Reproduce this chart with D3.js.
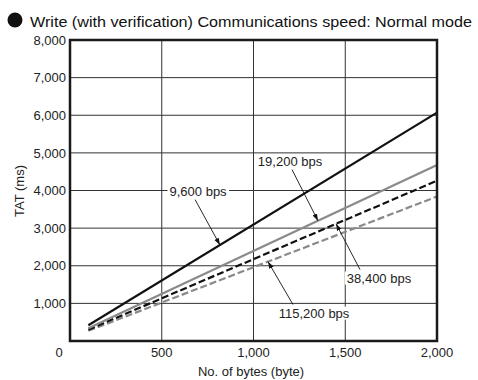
<!DOCTYPE html>
<html><head><meta charset="utf-8">
<script src="https://cdn.jsdelivr.net/npm/d3@7"></script>
<style>body{margin:0;background:#fff}svg{display:block;font-family:"Liberation Sans",Arial,sans-serif}</style>
</head><body>
<script>
const title = "Write (with verification) Communications speed: Normal mode";
const bytes = [100, 2000];
const tat9600 = [420, 6070];
const tat19200 = [340, 4680];
const tat38400 = [300, 4260];
const tat115200 = [270, 3840];
const seriesNames = ["9,600 bps", "19,200 bps", "38,400 bps", "115,200 bps"];
const xTicks = [0, 500, 1000, 1500, 2000];
const yTicks = [1000, 2000, 3000, 4000, 5000, 6000, 7000, 8000];
// label anchor (bytes, ms) and arrow-tip x (bytes)
const labelX = [698, 1199, 1684, 1330];
const labelY = [3989, 4787, 1676, 745];
const tipX = [817, 1351, 1450, 1079];

const W = 478, H = 380;
const svg = d3.select("body").append("svg").attr("width", W).attr("height", H);
const x = d3.scaleLinear().domain([0, 2000]).range([70, 437]);
const y = d3.scaleLinear().domain([0, 8000]).range([341, 40]);

// title
svg.append("circle").attr("cx", 15).attr("cy", 20).attr("r", 7.5).attr("fill", "#111");
svg.append("text").attr("x", 30).attr("y", 27).attr("font-size", 15.5)
  .attr("textLength", 442).attr("lengthAdjust", "spacingAndGlyphs").attr("fill", "#111").text(title);

// grid
const g = svg.append("g");
g.selectAll(".gx").data(xTicks.slice(1, -1)).enter().append("line")
  .attr("x1", d => x(d)).attr("x2", d => x(d)).attr("y1", y(0)).attr("y2", y(8000))
  .attr("stroke", "#333").attr("stroke-width", 1);
g.selectAll(".gy").data(yTicks.slice(0, -1)).enter().append("line")
  .attr("x1", x(0)).attr("x2", x(2000)).attr("y1", d => y(d)).attr("y2", d => y(d))
  .attr("stroke", "#333").attr("stroke-width", 1);

// series
const series = [
  {v: tat9600, color: "#111", dash: null},
  {v: tat19200, color: "#8a8a8a", dash: null},
  {v: tat38400, color: "#111", dash: "7,3"},
  {v: tat115200, color: "#8a8a8a", dash: "7,3"}
];
const line = d3.line().x(d => x(d[0])).y(d => y(d[1]));
series.slice().reverse().forEach(s => {
  svg.append("path").datum(bytes.map((b, i) => [b, s.v[i]]))
    .attr("d", line).attr("fill", "none").attr("stroke", s.color)
    .attr("stroke-width", 2.2).attr("stroke-dasharray", s.dash);
});

// frame
svg.append("rect").attr("x", x(0)).attr("y", y(8000)).attr("width", x(2000) - x(0)).attr("height", y(0) - y(8000))
  .attr("fill", "none").attr("stroke", "#1a1a1a").attr("stroke-width", 2.5);

// ticks
svg.selectAll(".yt").data(yTicks).enter().append("text")
  .attr("x", 66).attr("y", d => y(d)).attr("dy", "0.36em").attr("text-anchor", "end")
  .attr("font-size", 13).attr("fill", "#222").text(d3.format(","));
svg.selectAll(".xt").data(xTicks.slice(1)).enter().append("text")
  .attr("x", d => x(d)).attr("y", 357).attr("text-anchor", "middle")
  .attr("font-size", 13).attr("fill", "#222").text(d3.format(","));
svg.append("text").attr("x", x(0) - 11).attr("y", 357).attr("text-anchor", "middle")
  .attr("font-size", 13).attr("fill", "#222").text("0");

// axis titles
svg.append("text").attr("x", 251).attr("y", 376).attr("text-anchor", "middle")
  .attr("font-size", 13).attr("fill", "#222").text("No. of bytes (byte)");
svg.append("text").attr("transform", "translate(24,191) rotate(-90)").attr("text-anchor", "middle")
  .attr("font-size", 13).attr("fill", "#222").text("TAT (ms)");

// arrow marker
svg.append("defs").append("marker").attr("id", "ah").attr("viewBox", "0 0 10 10")
  .attr("refX", 10).attr("refY", 5).attr("markerWidth", 7).attr("markerHeight", 7)
  .attr("orient", "auto").attr("markerUnits", "userSpaceOnUse")
  .append("path").attr("d", "M0,1.5 L10,5 L0,8.5 Z").attr("fill", "#111");

// labels
const startOffset = [-3, 2, -19, -21];
seriesNames.forEach((name, i) => {
  const s = series[i];
  const tipVal = s.v[0] + (tipX[i] - bytes[0]) * (s.v[1] - s.v[0]) / (bytes[1] - bytes[0]);
  const lx = x(labelX[i]), ly = y(labelY[i]);
  const tx = x(tipX[i]), ty = y(tipVal);
  const t = svg.append("text").attr("x", lx).attr("y", ly).attr("dy", "0.36em")
    .attr("text-anchor", "middle").attr("font-size", 13).attr("fill", "#222").text(name);
  const bb = t.node().getBBox();
  svg.insert("rect", () => t.node()).attr("x", bb.x - 2).attr("y", bb.y + 1).attr("width", bb.width + 4).attr("height", bb.height - 2)
    .attr("fill", "#fff");
  const sy = ty > ly ? bb.y + bb.height + 1 : bb.y - 1;
  svg.append("line").attr("x1", lx + startOffset[i]).attr("y1", sy).attr("x2", tx).attr("y2", ty)
    .attr("stroke", "#111").attr("stroke-width", 0.9).attr("marker-end", "url(#ah)");
});
</script>
</body></html>
